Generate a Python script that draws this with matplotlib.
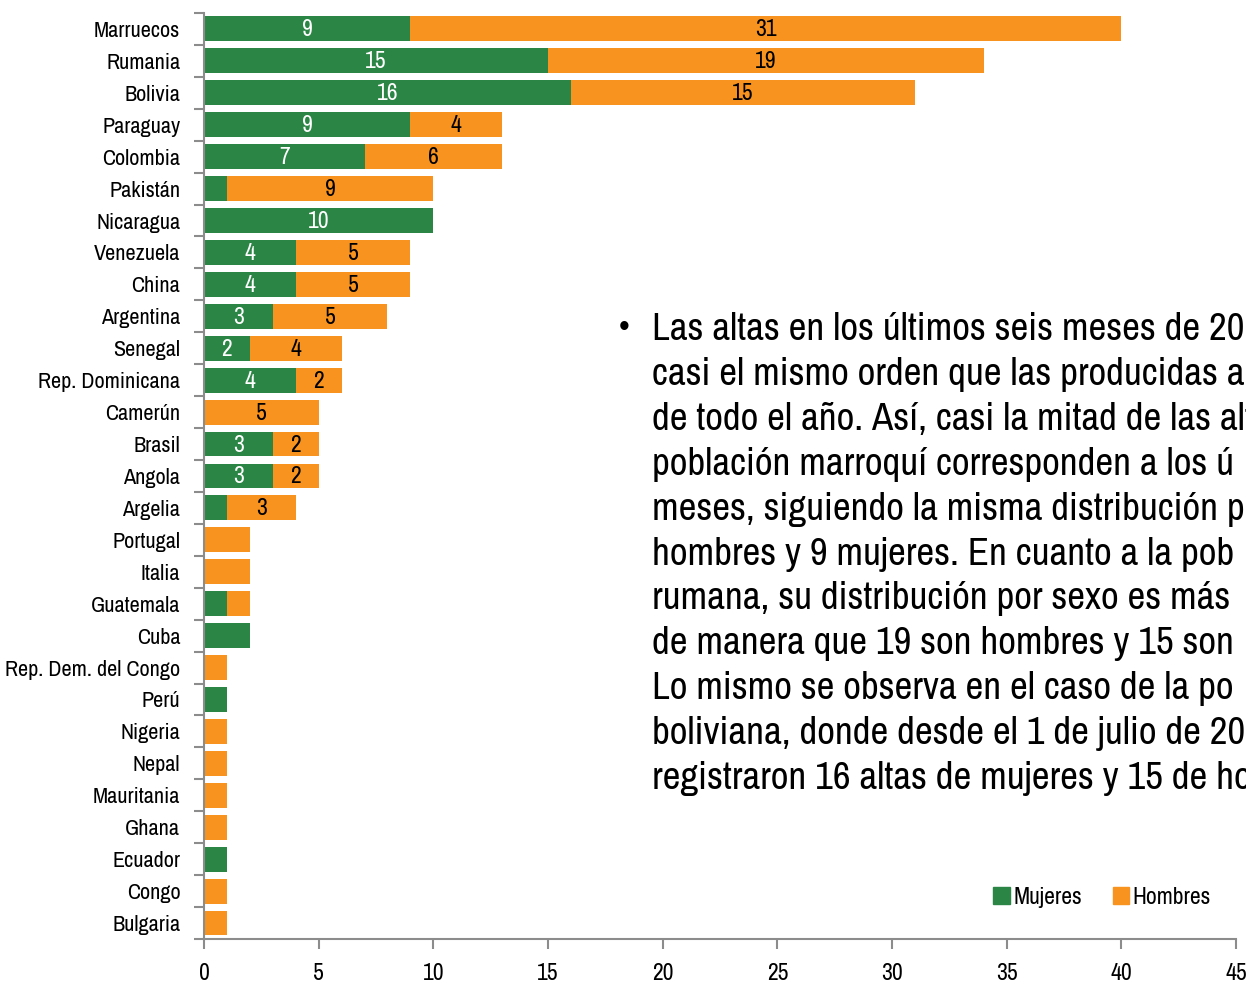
import matplotlib.pyplot as plt
from matplotlib.patches import Patch
import numpy as np

# Data
paises = ['Marruecos', 'Rumania', 'Bolivia', 'Paraguay', 'Colombia', 'Pakistán',
          'Nicaragua', 'Venezuela', 'China', 'Argentina', 'Senegal',
          'Rep. Dominicana', 'Camerún', 'Brasil', 'Angola', 'Argelia', 'Portugal',
          'Italia', 'Guatemala', 'Cuba', 'Rep. Dem. del Congo', 'Perú', 'Nigeria',
          'Nepal', 'Mauritania', 'Ghana', 'Ecuador', 'Congo', 'Bulgaria']
mujeres = [9, 15, 16, 9, 7, 1, 10, 4, 4, 3, 2, 4, 0, 3, 3, 1, 0, 0, 1, 2, 0, 1, 0, 0, 0, 0, 1, 0, 0]
hombres = [31, 19, 15, 4, 6, 9, 0, 5, 5, 5, 4, 2, 5, 2, 2, 3, 2, 2, 1, 0, 1, 0, 1, 1, 1, 1, 0, 1, 1]

# the paragraph is cut by the right edge in the original; only what shows is kept
texto = [
    'Las altas en los últimos seis meses de 201',
    'casi el mismo orden que las producidas a',
    'de todo el año. Así, casi la mitad de las alt',
    'población marroquí corresponden a los ú',
    'meses, siguiendo la misma distribución p',
    'hombres y 9 mujeres. En cuanto a la pob',
    'rumana, su distribución por sexo es más',
    'de manera que 19 son hombres y 15 son',
    'Lo mismo se observa en el caso de la po',
    'boliviana, donde desde el 1 de julio de 20',
    'registraron 16 altas de mujeres y 15 de ho',
]

verde = '#2b8646'
naranja = '#f7931e'
gris = '#8c8c8c'

plt.rcParams['font.family'] = ['Archivo Narrow', 'DejaVu Sans']

fig = plt.figure(figsize=(12.46, 9.82), dpi=100)
ax = fig.add_axes([0.1637, 0.0438, 0.8283, 0.943])

y = np.arange(len(paises))
ax.barh(y, mujeres, height=0.78, color=verde, label='Mujeres')
ax.barh(y, hombres, left=mujeres, height=0.78, color=naranja, label='Hombres')

# value labels inside the bars (small rows have none in the original)
for i in range(len(paises)):
    total = mujeres[i] + hombres[i]
    if total < 4:
        continue
    if mujeres[i] >= 2:
        ax.text(mujeres[i] / 2, y[i] + 0.03, str(mujeres[i]), color='white',
                ha='center', va='center', fontsize=17)
    if hombres[i] >= 2:
        ax.text(mujeres[i] + hombres[i] / 2, y[i] + 0.03, str(hombres[i]), color='black',
                ha='center', va='center', fontsize=17)

ax.set_xlim(0, 45)
ax.set_ylim(len(paises) - 0.5, -0.5)
ax.set_xticks(range(0, 46, 5))
ax.set_yticks(y)
ax.set_yticklabels(paises)
ax.set_yticks(np.arange(-0.5, len(paises), 1), minor=True)

for s in ['top', 'right']:
    ax.spines[s].set_visible(False)
for s in ['left', 'bottom']:
    ax.spines[s].set_color(gris)
    ax.spines[s].set_linewidth(1.5)

ax.tick_params(axis='y', which='major', length=0, pad=17, labelsize=16)
ax.tick_params(axis='y', which='minor', length=7, width=1.5, color=gris)
ax.tick_params(axis='x', length=7, width=1.5, color=gris, pad=10, labelsize=17)

# legend
handles = [Patch(color=verde, label='Mujeres'), Patch(color=naranja, label='Hombres')]
ax.legend(handles=handles, loc='lower left', bbox_to_anchor=(0.744, 0.011), ncol=2,
          frameon=False, fontsize=17, handlelength=0.7, handleheight=0.7,
          handletextpad=0.15, columnspacing=1.3)

# bullet text on the right
fig.text(619 / 1246, 1 - 328 / 982, '•', fontsize=22, va='center', ha='left',
         family=['Liberation Sans', 'DejaVu Sans'])
for k, linea in enumerate(texto):
    fig.text(652 / 1246, 1 - (330 + 44.8 * k) / 982, linea, fontsize=28,
             va='center', ha='left')

plt.savefig('out.png', dpi=100)
plt.close()
